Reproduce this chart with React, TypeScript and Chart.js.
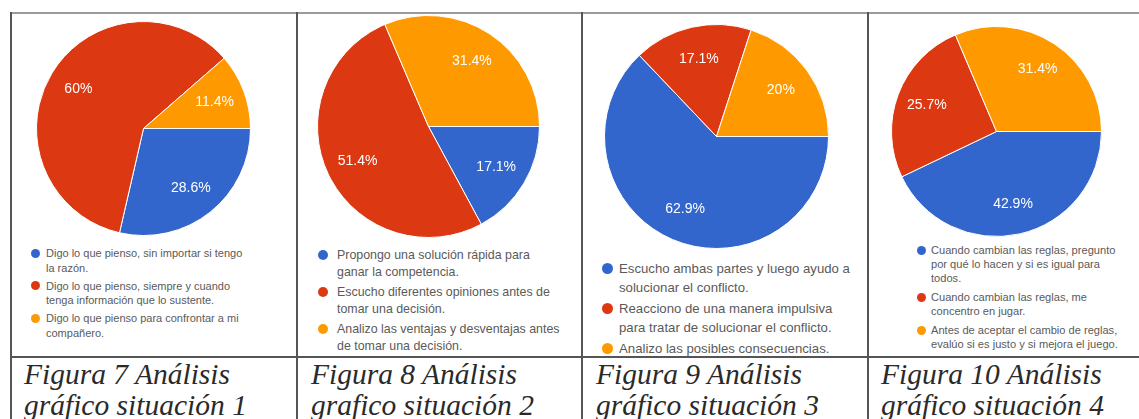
import React, { useEffect, useRef } from "react";
import { Chart, registerables } from "chart.js";

Chart.register(...registerables);

// ---------- data ----------
const sliceColors = ["#3366CC", "#DC3912", "#FF9900"];

const situation1Values = [28.6, 60, 11.4];
const situation2Values = [17.1, 51.4, 31.4];
const situation3Values = [62.9, 17.1, 20];
const situation4Values = [42.9, 25.7, 31.4];

const situation1Labels = [
  ["Digo lo que pienso, sin importar si tengo", "la razón."],
  ["Digo lo que pienso, siempre y cuando", "tenga información que lo sustente."],
  ["Digo lo que pienso para confrontar a mi", "compañero."],
];
const situation2Labels = [
  ["Propongo una solución rápida para", "ganar la competencia."],
  ["Escucho diferentes opiniones antes de", "tomar una decisión."],
  ["Analizo las ventajas y desventajas antes", "de tomar una decisión."],
];
const situation3Labels = [
  ["Escucho ambas partes y luego ayudo a", "solucionar el conflicto."],
  ["Reacciono de una manera impulsiva", "para tratar de solucionar el conflicto."],
  ["Analizo las posibles consecuencias."],
];
const situation4Labels = [
  ["Cuando cambian las reglas, pregunto", "por qué lo hacen y si es igual para", "todos."],
  ["Cuando cambian las reglas, me", "concentro en jugar."],
  ["Antes de aceptar el cambio de reglas,", "evalúo si es justo y si mejora el juego."],
];

const caption1 = ["Figura 7 Análisis", "gráfico situación 1"];
const caption2 = ["Figura 8 Análisis", "grafico situación 2"];
const caption3 = ["Figura 9 Análisis", "gráfico situación 3"];
const caption4 = ["Figura 10 Análisis", "gráfico situación 4"];

// ---------- layout ----------
type Layout = {
  cx: number; cy: number; r: number;
  legendTop: number; dotX: number; textX: number;
  font: number; lh: number; gap: number; dot: number;
  capX: number;
};

const layouts: Layout[] = [
  { cx: 143, cy: 128, r: 107, legendTop: 246, dotX: 35, textX: 46, font: 11, lh: 14.5, gap: 3.5, dot: 9, capX: 24 },
  { cx: 428, cy: 126, r: 111, legendTop: 246.5, dotX: 323, textX: 337, font: 12.4, lh: 17, gap: 3, dot: 10, capX: 311 },
  { cx: 716, cy: 136, r: 112, legendTop: 258.5, dotX: 607, textX: 619, font: 13.2, lh: 19, gap: 2, dot: 11, capX: 596 },
  { cx: 996, cy: 131, r: 105, legendTop: 243, dotX: 921, textX: 931, font: 11.1, lh: 14, gap: 5, dot: 9, capX: 881 },
];

const panels = [
  { values: situation1Values, labels: situation1Labels, caption: caption1 },
  { values: situation2Values, labels: situation2Labels, caption: caption2 },
  { values: situation3Values, labels: situation3Labels, caption: caption3 },
  { values: situation4Values, labels: situation4Labels, caption: caption4 },
];

const pctLabels = {
  id: "pctLabels",
  afterDatasetsDraw(chart: any) {
    const ctx = chart.ctx;
    const meta = chart.getDatasetMeta(0);
    const data = chart.data.datasets[0].data as number[];
    ctx.save();
    ctx.fillStyle = "#ffffff";
    ctx.font = '14px "Liberation Sans", Arial, sans-serif';
    ctx.textAlign = "center";
    ctx.textBaseline = "middle";
    meta.data.forEach((arc: any, i: number) => {
      const { x, y, startAngle, endAngle, outerRadius } = arc.getProps(
        ["x", "y", "startAngle", "endAngle", "outerRadius"],
        true
      );
      const mid = (startAngle + endAngle) / 2;
      const d = outerRadius * 0.71;
      ctx.fillText(`${data[i]}%`, x + Math.cos(mid) * d, y + Math.sin(mid) * d);
    });
    ctx.restore();
  },
};

function Pie({ values, labels, lay }: { values: number[]; labels: string[][]; lay: Layout }) {
  const ref = useRef<HTMLCanvasElement>(null);
  const size = 2 * lay.r + 1;
  useEffect(() => {
    const chart = new Chart(ref.current as HTMLCanvasElement, {
      type: "pie",
      data: {
        labels: labels.map((l) => l.join(" ")),
        datasets: [
          {
            data: values,
            backgroundColor: sliceColors,
            borderColor: "#ffffff",
            borderWidth: 1,
            hoverOffset: 0,
            offset: 0,
          } as any,
        ],
      },
      options: {
        responsive: false,
        animation: false,
        events: [],
        rotation: 90,
        layout: { padding: 0 },
        plugins: { legend: { display: false }, tooltip: { enabled: false } },
      } as any,
      plugins: [pctLabels],
    });
    return () => chart.destroy();
  }, []);
  return (
    <canvas
      ref={ref}
      width={size}
      height={size}
      style={{ position: "absolute", left: lay.cx - size / 2, top: lay.cy - size / 2, width: size, height: size }}
    />
  );
}

function Legend({ labels, lay }: { labels: string[][]; lay: Layout }) {
  return (
    <div style={{ position: "absolute", left: lay.dotX - lay.dot / 2, top: lay.legendTop }}>
      {labels.map((lines, i) => (
        <div key={i} style={{ position: "relative", marginBottom: lay.gap, paddingLeft: lay.textX - (lay.dotX - lay.dot / 2) }}>
          <span
            style={{
              position: "absolute",
              left: 0,
              top: lay.lh / 2 - lay.dot / 2,
              width: lay.dot,
              height: lay.dot,
              borderRadius: "50%",
              background: sliceColors[i],
            }}
          />
          {lines.map((t, j) => (
            <div
              key={j}
              style={{
                fontFamily: '"Liberation Sans", Arial, sans-serif',
                fontSize: lay.font,
                lineHeight: `${lay.lh}px`,
                color: "#5a5a5a",
                whiteSpace: "nowrap",
              }}
            >
              {t}
            </div>
          ))}
        </div>
      ))}
    </div>
  );
}

function Caption({ lines, lay }: { lines: string[]; lay: Layout }) {
  return (
    <div
      style={{
        position: "absolute",
        left: lay.capX,
        top: 358.5,
        fontFamily: '"Liberation Serif", "Times New Roman", serif',
        fontStyle: "italic",
        fontSize: 29.5,
        lineHeight: "31px",
        color: "#2a2a2a",
        whiteSpace: "nowrap",
      }}
    >
      {lines.map((t, i) => (
        <div key={i}>{t}</div>
      ))}
    </div>
  );
}

const vLines = [10, 296, 581, 867];

export default function App() {
  return (
    <div
      style={{
        position: "absolute",
        left: 0,
        top: 0,
        width: 1139,
        height: 419,
        background: "#ffffff",
        overflow: "hidden",
      }}
    >
      {/* frame lines */}
      <div style={{ position: "absolute", left: 10, top: 12, width: 1129, height: 2, background: "#9a9a9a" }} />
      <div style={{ position: "absolute", left: 10, top: 356, width: 1129, height: 2, background: "#555" }} />
      {vLines.map((x, i) => (
        <div key={i} style={{ position: "absolute", left: x, top: 12, width: 2, height: 407, background: "#555" }} />
      ))}
      {panels.map((p, i) => (
        <React.Fragment key={i}>
          <Pie values={p.values} labels={p.labels} lay={layouts[i]} />
          <Legend labels={p.labels} lay={layouts[i]} />
          <Caption lines={p.caption} lay={layouts[i]} />
        </React.Fragment>
      ))}
    </div>
  );
}
